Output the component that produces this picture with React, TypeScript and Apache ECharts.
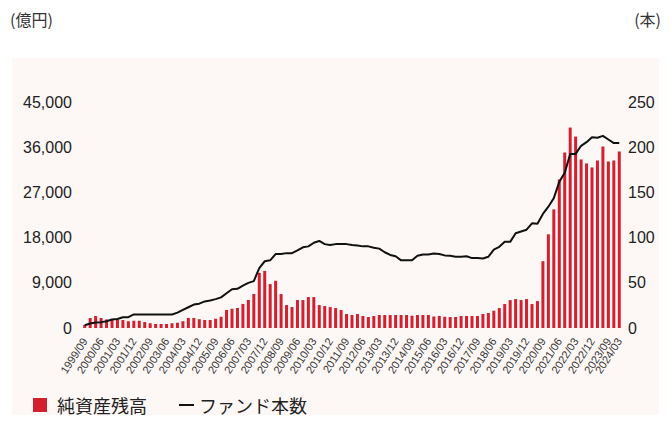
import React, { useEffect, useRef } from "react";
import * as echarts from "echarts";

const quarters: string[] = [
  "1999/09", "1999/12",
  "2000/03", "2000/06", "2000/09", "2000/12",
  "2001/03", "2001/06", "2001/09", "2001/12",
  "2002/03", "2002/06", "2002/09", "2002/12",
  "2003/03", "2003/06", "2003/09", "2003/12",
  "2004/03", "2004/06", "2004/09", "2004/12",
  "2005/03", "2005/06", "2005/09", "2005/12",
  "2006/03", "2006/06", "2006/09", "2006/12",
  "2007/03", "2007/06", "2007/09", "2007/12",
  "2008/03", "2008/06", "2008/09", "2008/12",
  "2009/03", "2009/06", "2009/09", "2009/12",
  "2010/03", "2010/06", "2010/09", "2010/12",
  "2011/03", "2011/06", "2011/09", "2011/12",
  "2012/03", "2012/06", "2012/09", "2012/12",
  "2013/03", "2013/06", "2013/09", "2013/12",
  "2014/03", "2014/06", "2014/09", "2014/12",
  "2015/03", "2015/06", "2015/09", "2015/12",
  "2016/03", "2016/06", "2016/09", "2016/12",
  "2017/03", "2017/06", "2017/09", "2017/12",
  "2018/03", "2018/06", "2018/09", "2018/12",
  "2019/03", "2019/06", "2019/09", "2019/12",
  "2020/03", "2020/06", "2020/09", "2020/12",
  "2021/03", "2021/06", "2021/09", "2021/12",
  "2022/03", "2022/06", "2022/09", "2022/12",
  "2023/03", "2023/06", "2023/09", "2023/12",
  "2024/03",
];

// 純資産残高 (億円)
const netAssets: number[] = [
  600, 2000,
  2400, 2000, 1700, 1600,
  1600, 1600, 1350, 1450,
  1450, 1200, 950, 800,
  800, 800, 950, 1050,
  1350, 2000, 2000, 1750,
  1600, 1600, 1850, 2250,
  3600, 3850, 4000, 4800,
  5600, 6800, 11000, 11400,
  8760, 9420, 6770, 4580,
  4180, 5570, 5570, 6170,
  6170, 4580, 4380, 4180,
  3980, 3580, 2790, 2590,
  2790, 2390, 2190, 2390,
  2590, 2590, 2590, 2590,
  2590, 2590, 2450, 2590,
  2590, 2590, 2300, 2390,
  2250, 2190, 2190, 2390,
  2390, 2390, 2390, 2790,
  2990, 3450, 3980, 4780,
  5570, 5770, 5570, 5770,
  4780, 5370, 13330, 18700,
  23680, 29650, 35020, 40000,
  38200, 33630, 32840, 32040,
  33430, 36220, 33230, 33430,
  35220,
];

// ファンド本数 (本)
const fundCount: number[] = [
  3, 5,
  6, 6.5, 7.5, 9.5,
  10, 12, 12, 15,
  15, 15, 15, 15,
  15, 15, 15, 17,
  20, 23, 26, 27,
  29.5, 30.5, 32, 34,
  38.5, 43, 43.5, 47,
  50, 52, 66.5, 74,
  75, 82, 82, 83,
  83, 86, 89.5, 90.5,
  94.5, 96.5, 93, 92,
  93, 93, 93, 92,
  91.5, 90.5, 90.5, 89,
  88, 84, 81, 79.5,
  75, 75, 75, 80,
  81.5, 81.5, 82.5, 82,
  80.5, 80, 79, 79,
  79.5, 77.5, 77.5, 77,
  79, 87, 90, 95.5,
  95.5, 105, 107, 109,
  116, 115.5, 126.5, 134.5,
  144, 162, 172, 193,
  193, 202, 206, 211.5,
  211, 213, 209, 205,
  205,
];

const leftTicks = { min: 0, max: 45000, interval: 9000 };
const rightTicks = { min: 0, max: 250, interval: 50 };

const FONT = "'Liberation Sans', 'Noto Sans CJK JP', sans-serif";
const CJK = "'Noto Sans CJK JP', 'Liberation Sans', sans-serif";

export default function App() {
  const ref = useRef<HTMLDivElement>(null);

  useEffect(() => {
    if (!ref.current) return;
    const chart = echarts.init(ref.current, undefined, { renderer: "svg" });
    const lastIdx = quarters.length - 1;
    const labelBase = {
      rotate: 57,
      fontSize: 11,
      color: "#333",
      fontFamily: FONT,
      margin: 11,
      hideOverlap: false,
    };
    chart.setOption({
      animation: false,
      backgroundColor: "#ffffff",
      graphic: [
        {
          type: "rect",
          z: -10,
          silent: true,
          shape: { x: 12, y: 58, width: 647, height: 365 },
          style: { fill: "#fdf8f6" },
        },
        {
          type: "text",
          left: 10,
          top: 11,
          style: { text: "(億円)", fill: "#333", font: `16px ${CJK}` },
        },
        {
          type: "text",
          right: 10,
          top: 11,
          style: { text: "(本)", fill: "#333", font: `16px ${CJK}` },
        },
      ],
      grid: { left: 82, right: 49, top: 102.5, bottom: 95, containLabel: false },
      legend: [
        {
          data: [{ name: "純資産残高", icon: "rect" }],
          left: 28,
          top: 391,
          itemWidth: 14,
          itemHeight: 14,
          textStyle: { fontSize: 18, color: "#222", fontFamily: CJK, padding: [0, 0, 0, 5] },
        },
        {
          data: [{ name: "ファンド本数", icon: "rect" }],
          left: 174,
          top: 391,
          itemWidth: 15,
          itemHeight: 2,
          textStyle: { fontSize: 18, color: "#222", fontFamily: CJK },
        },
      ],
      xAxis: [
        {
          type: "category",
          data: quarters,
          boundaryGap: true,
          axisLine: { show: false },
          axisTick: { show: false },
          axisLabel: {
            ...labelBase,
            interval: (i: number) => i % 3 === 0,
          },
        },
        {
          type: "category",
          data: quarters,
          position: "bottom",
          boundaryGap: true,
          axisLine: { show: false },
          axisTick: { show: false },
          splitLine: { show: false },
          axisLabel: {
            ...labelBase,
            interval: (i: number) => i === lastIdx,
          },
        },
      ],
      yAxis: [
        {
          type: "value",
          ...leftTicks,
          splitLine: { show: false },
          axisLine: { show: false },
          axisTick: { show: false },
          axisLabel: {
            fontSize: 16,
            color: "#222",
            fontFamily: FONT,
            margin: 10,
            formatter: (v: number) => v.toLocaleString("en-US"),
          },
        },
        {
          type: "value",
          ...rightTicks,
          position: "right",
          splitLine: { show: false },
          axisLine: { show: false },
          axisTick: { show: false },
          axisLabel: { fontSize: 16, color: "#222", fontFamily: FONT, margin: 6 },
        },
      ],
      series: [
        {
          name: "純資産残高",
          type: "bar",
          data: netAssets,
          xAxisIndex: 0,
          yAxisIndex: 0,
          barWidth: 3,
          itemStyle: { color: "#d31f2e" },
        },
        {
          name: "ファンド本数",
          type: "line",
          data: fundCount,
          xAxisIndex: 0,
          yAxisIndex: 1,
          symbol: "none",
          lineStyle: { color: "#111", width: 2 },
          itemStyle: { color: "#111" },
        },
      ],
    });
    return () => chart.dispose();
  }, []);

  return <div ref={ref} style={{ width: 671, height: 423, margin: -8 }} />;
}
